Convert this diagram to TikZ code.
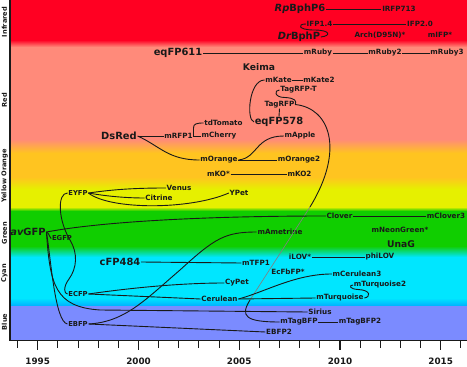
\documentclass[tikz,border=0pt]{standalone}
\usepackage{fontspec}
\setmainfont{DejaVu Sans}
\definecolor{cIR}{RGB}{255,0,34}
\definecolor{cSal}{RGB}{255,138,122}
\definecolor{cOr}{RGB}{255,196,32}
\definecolor{cYe}{RGB}{230,240,0}
\definecolor{cGr}{RGB}{16,206,0}
\definecolor{cCy}{RGB}{0,230,255}
\definecolor{cDb}{RGB}{0,175,255}
\definecolor{cBl}{RGB}{123,139,255}
\definecolor{ink}{RGB}{25,25,25}
\begin{document}
\begin{tikzpicture}[x=1pt,y=-1pt,
  lbl/.style={inner sep=0.6pt, text=ink, font=\fontsize{7.2}{8}\selectfont\bfseries},
  sml/.style={inner sep=0.6pt, text=ink, font=\fontsize{6.8}{7}\selectfont\bfseries},
  big/.style={inner sep=0.6pt, text=ink, font=\fontsize{9.9}{11}\selectfont\bfseries},
  mid/.style={inner sep=0.6pt, text=ink, font=\fontsize{9.2}{10}\selectfont\bfseries},
  side/.style={rotate=90, inner sep=0pt, text=ink, font=\fontsize{6.6}{7}\selectfont\bfseries},
  yr/.style={inner sep=0pt, text=ink, font=\fontsize{8.8}{9}\selectfont\bfseries},
  con/.style={line width=0.9pt, draw=ink},
  faint/.style={line width=0.65pt, draw=black!50}]
\useasboundingbox (0,0) rectangle (467,367);
\fill[white] (0,0) rectangle (467,367);
% ---- bands
\fill[cIR] (10,0) rectangle (467,40);
\shade[top color=cIR, bottom color=cSal] (10,40) rectangle (467,47);
\fill[cSal] (10,47) rectangle (467,139);
\shade[top color=cSal, bottom color=cOr] (10,139) rectangle (467,153);
\fill[cOr] (10,153) rectangle (467,177);
\shade[top color=cOr, bottom color=cYe] (10,177) rectangle (467,189);
\fill[cYe] (10,189) rectangle (467,207);
\shade[top color=cYe, bottom color=cGr] (10,207) rectangle (467,211);
\fill[cGr] (10,211) rectangle (467,246);
\shade[top color=cGr, bottom color=cCy] (10,246) rectangle (467,257);
\fill[cCy] (10,257) rectangle (467,298);
\shade[top color=cCy, bottom color=cDb] (10,298) rectangle (467,306);
\fill[cBl] (10,306) rectangle (467,340);
% ---- axes
\draw[line width=1.3pt, ink] (10,0) -- (10,340.6) -- (467,340.6);
\foreach \i in {0,...,22} {\draw[line width=0.9pt, ink] ({17.55+\i*20.15},340) -- ++(0,8);}
\foreach \i in {1,6,11,16,21} {\draw[line width=1.1pt, ink] ({17.55+\i*20.15},340) -- ++(0,10);}
\node[yr] (y1995) at (37.7,361) {1995};
\node[yr] (y2000) at (138.5,361) {2000};
\node[yr] (y2005) at (239.2,361) {2005};
\node[yr] (y2010) at (340,361) {2010};
\node[yr] (y2015) at (440.7,361) {2015};
% ---- side labels
\node[side] (sIR) at (4.5,22) {Infrared};
\node[side] (sRed) at (4.5,100) {Red};
\node[side] (sYO) at (4.5,176) {Yellow Orange};
\node[side] (sGr) at (4.5,233) {Green};
\node[side] (sCy) at (4.5,273) {Cyan};
\node[side] (sBl) at (4.5,322) {Blue};
% ---- nodes: infrared
\node[big] (RpBphP6) at (300,9) {{\itshape Rp}BphP6};
\node[lbl] (IRFP713) at (399,9) {IRFP713};
\node[lbl] (IFP14) at (319.5,24) {IFP1.4};
\node[lbl] (IFP20) at (420,24) {IFP2.0};
\node[big] (DrBphP) at (299,37) {{\itshape Dr}BphP};
\node[lbl] (Arch) at (380,35) {Arch(D95N)*};
\node[lbl] (mIFP) at (440,35) {mIFP*};
% red
\node[big] (eqFP611) at (178,53) {eqFP611};
\node[lbl] (mRuby) at (318,53) {mRuby};
\node[lbl] (mRuby2) at (385,53) {mRuby2};
\node[lbl] (mRuby3) at (447,53) {mRuby3};
\node[mid] (Keima) at (259,67) {Keima};
\node[lbl] (mKate) at (278.5,80) {mKate};
\node[lbl] (mKate2) at (319,80) {mKate2};
\node[lbl] (TagRFPT) at (298.5,90) {TagRFP-T};
\node[lbl] (TagRFP) at (279.5,104.5) {TagRFP};
\node[big] (eqFP578) at (279,122) {eqFP578};
\node[lbl] (tdTomato) at (223.5,123) {tdTomato};
\node[big] (DsRed) at (119,136) {DsRed};
\node[lbl] (mRFP1) at (178.5,136) {mRFP1};
\node[lbl] (mCherry) at (219,136) {mCherry};
\node[lbl] (mApple) at (300,136) {mApple};
% orange / yellow
\node[lbl] (mOrange) at (219,160) {mOrange};
\node[lbl] (mOrange2) at (299,160) {mOrange2};
\node[lbl] (mKO) at (218.5,174) {mKO*};
\node[lbl] (mKO2) at (299.5,174) {mKO2};
\node[sml] (EYFP) at (78,193) {EYFP};
\node[lbl] (Venus) at (179,188) {Venus};
\node[lbl] (Citrine) at (159,198) {Citrine};
\node[lbl] (YPet) at (239,193) {YPet};
% green
\node[big] (avGFP) at (28,232) {{\itshape av}GFP};
\node[sml] (EGFP) at (62,238.5) {EGFP};
\node[lbl] (Clover) at (339.5,216) {Clover};
\node[lbl] (mClover3) at (446,216) {mClover3};
\node[lbl] (mAmetrine) at (280,232) {mAmetrine};
\node[lbl] (mNeonGreen) at (400,230) {mNeonGreen*};
\node[mid] (UnaG) at (401,244) {UnaG};
% cyan
\node[big] (cFP484) at (120,262) {cFP484};
\node[lbl] (mTFP1) at (256,263) {mTFP1};
\node[lbl] (iLOV) at (300,257) {iLOV*};
\node[lbl] (phiLOV) at (380,257) {phiLOV};
\node[lbl] (EcFbFP) at (288,272) {EcFbFP*};
\node[lbl] (mCerulean3) at (357,274) {mCerulean3};
\node[lbl] (mTurquoise2) at (380,285) {mTurquoise2};
\node[lbl] (CyPet) at (237,283) {CyPet};
\node[sml] (ECFP) at (78,294) {ECFP};
\node[lbl] (Cerulean) at (219.5,299) {Cerulean};
\node[lbl] (mTurquoise) at (340,298) {mTurquoise};
% blue
\node[lbl] (Sirius) at (320,312) {Sirius};
\node[lbl] (mTagBFP) at (299,322) {mTagBFP};
\node[lbl] (mTagBFP2) at (360,322) {mTagBFP2};
\node[sml] (EBFP) at (78,324) {EBFP};
\node[lbl] (EBFP2) at (279,332) {EBFP2};
\coordinate (tdj) at (193.5,136);
\coordinate (tagmid) at (310,207);
\coordinate (tagend) at (250,300);
\coordinate (sirj) at (100,310);
% ---- connectors
\draw[con] (RpBphP6.east) -- (IRFP713.west);
\draw[con] (IFP14.east) -- (IFP20.west);
\draw[con] (DrBphP.east) .. controls (331,36) and (331,30) .. (314,30) .. controls (298,30) and (297,24) .. (IFP14.west);
\draw[con] (eqFP611.east) -- (mRuby.west);
\draw[con] (mRuby.east) -- (mRuby2.west);
\draw[con] (mRuby2.east) -- (mRuby3.west);
\draw[con] (mKate.east) -- (mKate2.west);
\draw[con] (mKate.west) .. controls (249,80) and (246,120) .. (eqFP578.west);
\draw[con] (TagRFP.south) -- (eqFP578.north);
\draw[con] (TagRFPT.west) .. controls (274,90) and (274,97.5) .. (285,97.5) .. controls (295,98) and (297,101) .. (TagRFP.east);
\draw[con] (TagRFP.east) .. controls (330,108) and (345,150) .. (tagmid);
\draw[faint] (tagmid) -- (tagend);
\draw[con] (tagend) .. controls (240,316) and (245,322) .. (mTagBFP.west);
\draw[con] (mTagBFP.east) -- (mTagBFP2.west);
\draw[con] (DsRed.east) -- (mRFP1.west);
\draw[con] (mRFP1.east) -- (mCherry.west);
\draw[con] (tdj) -- (193.5,128) .. controls (193.5,124) and (196,123) .. (tdTomato.west);
\draw[con] (DsRed.east) .. controls (160,146) and (168,160) .. (mOrange.west);
\draw[con] (mOrange.east) -- (mOrange2.west);
\draw[con] (mOrange.east) .. controls (258,158) and (255,136) .. (mApple.west);
\draw[con] (mKO.east) -- (mKO2.west);
\draw[con] (EYFP.east) .. controls (110,190) and (130,188) .. (Venus.west);
\draw[con] (EYFP.east) .. controls (105,196) and (125,198) .. (Citrine.west);
\draw[con] (EYFP.east) .. controls (110,210) and (190,210) .. (YPet.west);
\draw[con] (EYFP.west) .. controls (57,193) and (58,220) .. (70,240) .. controls (78,253) and (77,268) .. (69,279) .. controls (63,287) and (64,294) .. (ECFP.west);
\draw[con] (avGFP.east) .. controls (49,233) and (50,238) .. (EGFP.west);
\draw[con] (avGFP.east) .. controls (100,222) and (200,216) .. (Clover.west);
\draw[con] (Clover.east) -- (mClover3.west);
\draw[con] (avGFP.east) .. controls (51,260) and (55,322) .. (EBFP.west);
\draw[con] (avGFP.east) .. controls (50,285) and (55,307) .. (sirj) -- (Sirius.west);
\draw[con] (cFP484.east) -- (mTFP1.west);
\draw[con] (iLOV.east) -- (phiLOV.west);
\draw[con] (ECFP.east) .. controls (130,288) and (180,283) .. (CyPet.west);
\draw[con] (ECFP.east) -- (Cerulean.west);
\draw[con] (Cerulean.east) .. controls (265,292) and (295,274) .. (mCerulean3.west);
\draw[con] (Cerulean.east) -- (mTurquoise.west);
\draw[con] (mTurquoise.east) .. controls (371,297) and (371,290) .. (358,289.5) .. controls (349,289) and (349,285) .. (mTurquoise2.west);
\draw[con] (EBFP.east) .. controls (125,322) and (145,300) .. (180,270) .. controls (215,238) and (225,232) .. (mAmetrine.west);
\draw[con] (EBFP.east) -- (EBFP2.west);
\end{tikzpicture}
\end{document}
